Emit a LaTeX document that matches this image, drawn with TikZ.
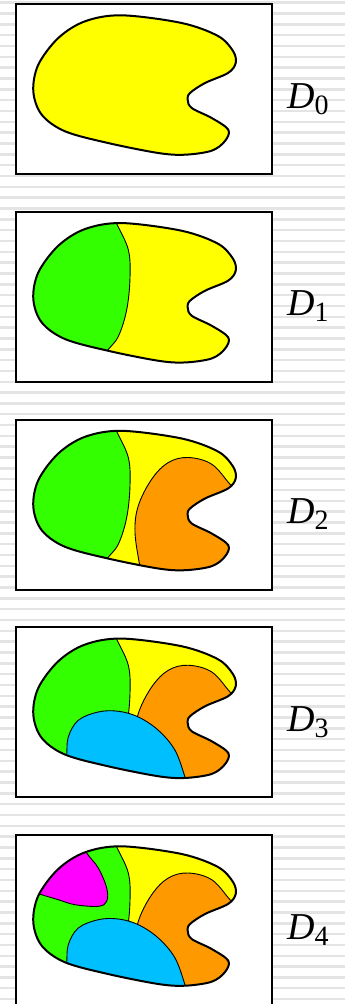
\documentclass[tikz,border=0pt]{standalone}
\usepackage{fontspec}
\setmainfont{Liberation Serif}
\definecolor{rgyellow}{HTML}{FFFF00}
\definecolor{rggreen}{HTML}{33FF00}
\definecolor{rgorange}{HTML}{FF9900}
\definecolor{rgblue}{HTML}{00BFFF}
\definecolor{rgmagenta}{HTML}{FF00FF}
\definecolor{rgstripe}{HTML}{E4E4E4}
\usepackage{tikz}
\usetikzlibrary{positioning}

% outline of the region, relative to the top left corner of its box
\newcommand{\blobpath}{plot[smooth cycle, tension=0.55] coordinates {(105.7,11.3) (165.7,19) (202,32) (217,47) (219.7,59) (212,69) (189,79) (174,89) (171.7,95.7) (175.7,104) (195.7,114) (212.3,125.7) (209,137) (195.7,146.7) (169,150.7) (142.3,149) (92,139) (49,127.3) (25.7,110.7) (17.3,87.3) (22.3,60.7) (42.3,34) (69,17.3)}}
\newcommand{\greenline}{plot[smooth, tension=0.6] coordinates {(96,2) (100.7,12) (112.3,38) (114,66) (110.7,98) (102.3,124.7) (90.7,139.7) (84,152)}}
\newcommand{\orangeline}{plot[smooth, tension=0.6] coordinates {(225,76) (214,64.7) (195.7,44.7) (172.3,38) (152.3,43) (135.7,59.7) (122.3,86.3) (119,113) (124,148) (126,162)}}
\newcommand{\blueline}{plot[smooth, tension=0.6] coordinates {(49,140) (50.7,128) (52.3,109.7) (62.3,93) (82.3,84.7) (102.3,84) (122.3,89.7) (142.3,103) (159,123) (169,149.7) (172,160)}}
\newcommand{\magentaline}{plot[smooth, tension=0.6] coordinates {(66,6) (70.7,18) (82.3,33) (90.7,53) (90.7,66.3) (82.3,71.3) (59,69.7) (42.3,64.7) (25.7,59.7) (12,55)}}

\begin{document}
\begin{tikzpicture}[
  x=1pt, y=-1pt,
  panel/.style={draw=black, line width=2pt, fill=white, minimum width=256pt,
                minimum height=170pt, inner sep=0pt},
  outline/.style={draw=black, line width=2pt, line join=round},
  border/.style={draw=black, line width=0.9pt},
  stripe/.style={draw=rgstripe, line width=2.5pt},
  dlabel/.style={anchor=base west, inner sep=0pt, font=\fontsize{38}{38}\selectfont},
]
  \useasboundingbox (0,0) rectangle (345,1004);
  \fill[white] (0,0) rectangle (345,1004);
  \foreach \i in {0,...,92}
    \draw[stripe] (0,2.7+10.83*\i) -- (345,2.7+10.83*\i);

  % D0
  \node[panel] (p0) at (144,89) {};
  \begin{scope}[shift={(16,4)}]
    \begin{scope}
      \clip \blobpath;
      \fill[rgyellow] (0,0) rectangle (256,170);
    \end{scope}
    \draw[outline] \blobpath;
  \end{scope}
  \node[dlabel] (d0) at (287,108) {\itshape D\raisebox{-6pt}{\fontsize{28}{28}\selectfont\upshape 0}};

  % D1
  \node[panel] (p1) at (144,296.75) {};
  \begin{scope}[shift={(16,211.75)}]
    \begin{scope}
      \clip \blobpath;
      \fill[rgyellow] (0,0) rectangle (256,170);
      \fill[rggreen] \greenline -- (0,160) -- (0,0) -- cycle;
      \draw[border] \greenline;
    \end{scope}
    \draw[outline] \blobpath;
  \end{scope}
  \node[dlabel] (d1) at (287,315.75) {\itshape D\raisebox{-6pt}{\fontsize{28}{28}\selectfont\upshape 1}};

  % D2
  \node[panel] (p2) at (144,504.5) {};
  \begin{scope}[shift={(16,419.5)}]
    \begin{scope}
      \clip \blobpath;
      \fill[rgyellow] (0,0) rectangle (256,170);
      \fill[rggreen] \greenline -- (0,160) -- (0,0) -- cycle;
      \draw[border] \greenline;
      \fill[rgorange] \orangeline -- (240,170) -- (240,76) -- cycle;
      \draw[border] \orangeline;
    \end{scope}
    \draw[outline] \blobpath;
  \end{scope}
  \node[dlabel] (d2) at (287,523.5) {\itshape D\raisebox{-6pt}{\fontsize{28}{28}\selectfont\upshape 2}};

  % D3
  \node[panel] (p3) at (144,712.25) {};
  \begin{scope}[shift={(16,627.25)}]
    \begin{scope}
      \clip \blobpath;
      \fill[rgyellow] (0,0) rectangle (256,170);
      \fill[rggreen] \greenline -- (0,160) -- (0,0) -- cycle;
      \draw[border] \greenline;
      \fill[rgorange] \orangeline -- (240,170) -- (240,76) -- cycle;
      \draw[border] \orangeline;
      \fill[rgblue] \blueline -- cycle;
      \draw[border] \blueline;
    \end{scope}
    \draw[outline] \blobpath;
  \end{scope}
  \node[dlabel] (d3) at (287,731.25) {\itshape D\raisebox{-6pt}{\fontsize{28}{28}\selectfont\upshape 3}};

  % D4
  \node[panel] (p4) at (144,920) {};
  \begin{scope}[shift={(16,835)}]
    \begin{scope}
      \clip \blobpath;
      \fill[rgyellow] (0,0) rectangle (256,170);
      \fill[rggreen] \greenline -- (0,160) -- (0,0) -- cycle;
      \draw[border] \greenline;
      \fill[rgorange] \orangeline -- (240,170) -- (240,76) -- cycle;
      \draw[border] \orangeline;
      \fill[rgblue] \blueline -- cycle;
      \draw[border] \blueline;
      \fill[rgmagenta] \magentaline -- (12,6) -- cycle;
      \draw[border] \magentaline;
    \end{scope}
    \draw[outline] \blobpath;
  \end{scope}
  \node[dlabel] (d4) at (287,939) {\itshape D\raisebox{-6pt}{\fontsize{28}{28}\selectfont\upshape 4}};
\end{tikzpicture}
\end{document}
